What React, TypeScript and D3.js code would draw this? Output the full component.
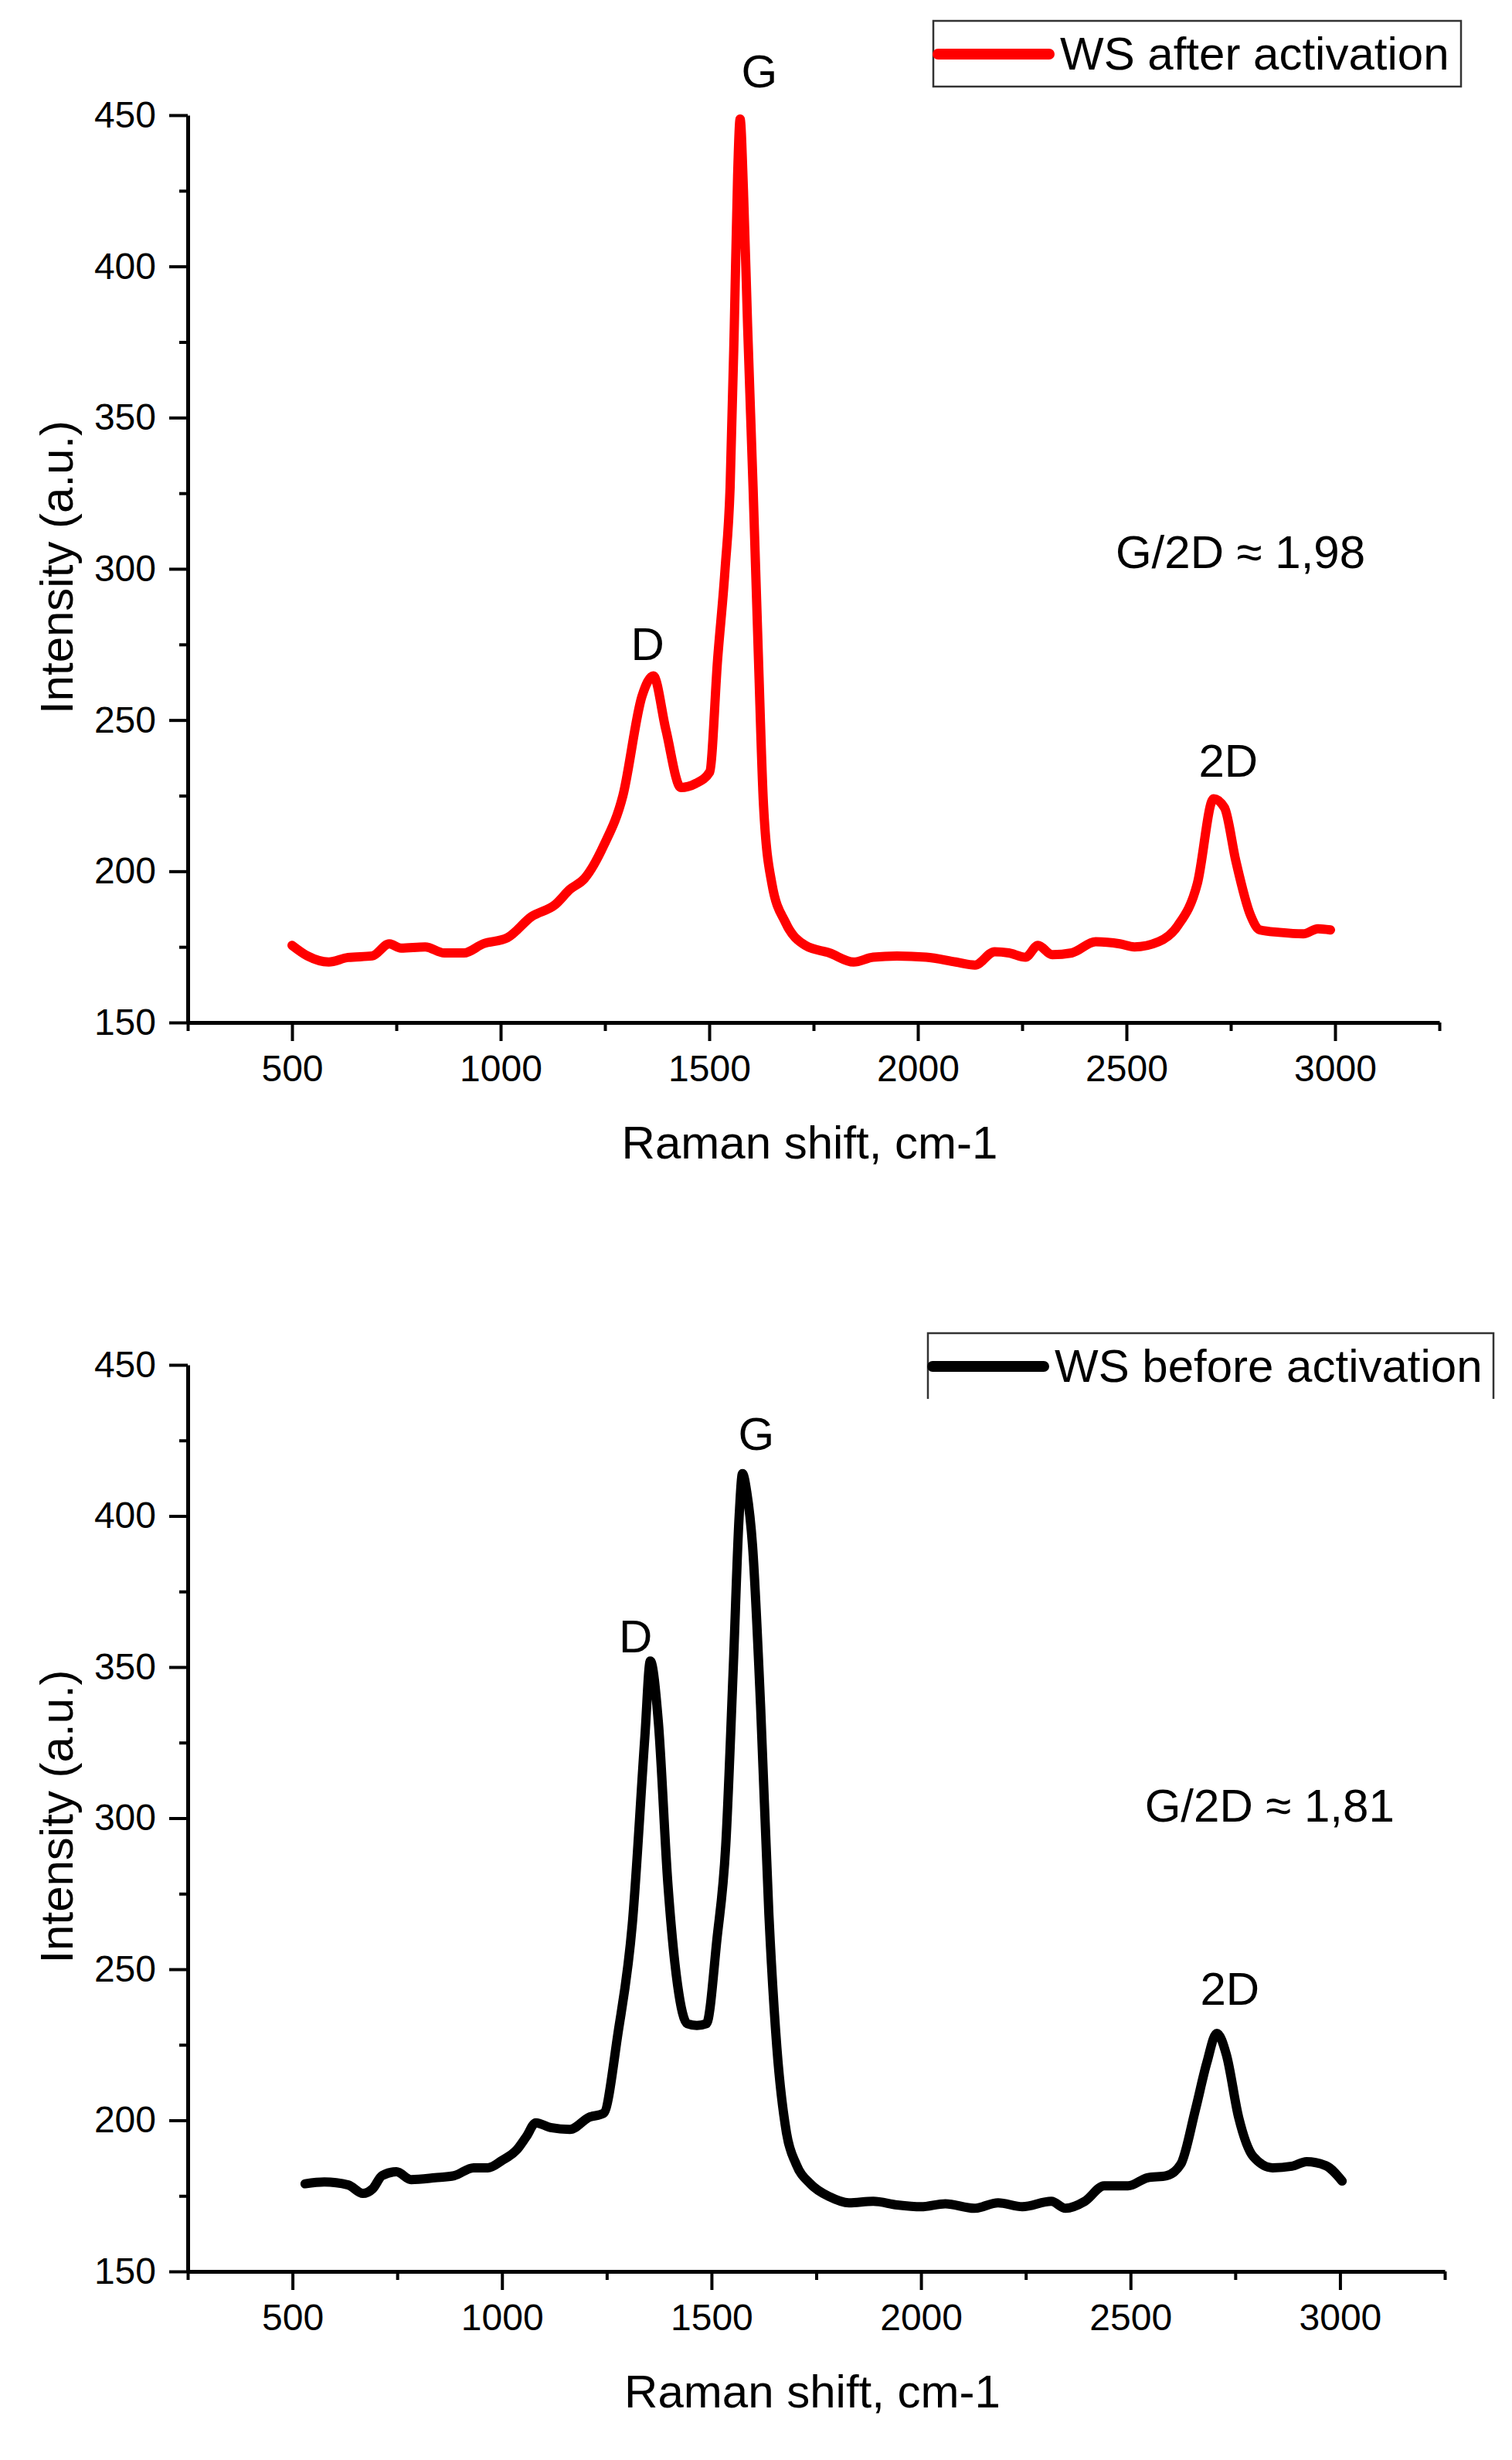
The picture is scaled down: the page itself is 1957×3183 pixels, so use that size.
import React, { useRef, useEffect } from "react";
import * as d3 from "d3";

// WS after activation (red)
const afterShift = [
  500, 537, 588, 634, 692, 733, 761, 819, 865, 912, 958, 1016, 1074, 1131, 1166,
  1201, 1247, 1293, 1339, 1366, 1396, 1432, 1467, 1501, 1520, 1538, 1550, 1560,
  1568, 1574, 1582, 1592, 1605, 1618, 1630, 1650, 1683, 1730, 1788, 1846, 1893,
  1950, 2020, 2091, 2137, 2184, 2218, 2258, 2288, 2322, 2369, 2426, 2484, 2519,
  2577, 2623, 2670, 2709, 2735, 2762, 2797, 2820, 2866, 2924, 2959, 2989,
];
const afterIntensity = [
  175.5, 172, 170, 171.5, 172, 176, 174.6, 175, 173, 173, 176, 178, 185, 189, 194,
  197.6, 208.5, 225, 258, 264.6, 246.8, 227.7, 229, 232.8, 270, 300, 327, 380,
  430, 448.7, 425, 380, 327, 270, 222, 196, 183, 175.5, 173, 170, 171.6,
  172, 171.6, 170, 169, 173.4, 173, 171.6, 175.5, 172.4, 173, 176.7, 176, 175,
  176.7, 182, 196, 224, 221, 203.5, 185.6, 180.6, 179.8, 179.3, 181, 180.6,
];

// WS before activation (black)
const beforeShift = [
  530, 576, 633, 668, 691, 714, 748, 783, 840, 886, 932, 966, 1001, 1035, 1058,
  1081, 1116, 1162, 1208, 1242, 1277, 1311, 1341, 1354, 1373, 1396, 1419, 1442,
  1465, 1488, 1513, 1534, 1552, 1566, 1574, 1584, 1598, 1617, 1637, 1656, 1679,
  1702, 1736, 1782, 1828, 1886, 1943, 2000, 2058, 2127, 2184, 2242, 2311, 2345,
  2391, 2437, 2494, 2540, 2586, 2620, 2655, 2682, 2706, 2729, 2758, 2793, 2839,
  2885, 2920, 2966, 3005,
];
const beforeIntensity = [
  179, 179.6, 178.6, 175.8, 177.3, 181.7, 183, 180.4, 181, 181.7, 184.3, 184.3,
  186.8, 190.2, 194.6, 199.2, 197.6, 197, 201, 202.3, 229, 265, 327, 352, 332,
  278, 244.8, 232, 231.4, 232, 260, 291, 350, 400, 414, 408, 390, 337.5, 268,
  224, 195.8, 185.5, 179, 174.7, 172.7, 173.2, 172, 171.4, 172.4, 170.9, 172.7,
  171.4, 173.2, 170.9, 173.2, 178.3, 178.3, 181, 181.7, 185.5, 203.6, 219,
  228.8, 221.6, 201, 188, 184.3, 184.8, 186.3, 185, 179.9,
];

const xMajorTicks = [500, 1000, 1500, 2000, 2500, 3000];
const xMinorTicks = [250, 750, 1250, 1750, 2250, 2750, 3250];
const yMajorTicks = [150, 200, 250, 300, 350, 400, 450];
const yMinorTicks = [175, 225, 275, 325, 375, 425];
const peakNames = ["D", "G", "2D"];
const ratioLabels = ["G/2D \u2248 1,98", "G/2D \u2248 1,81"];
const seriesNames = ["WS after activation", "WS before activation"];

const FONT = "'Liberation Sans', Arial, Helvetica, sans-serif";

type PanelProps = {
  shift: number[];
  intensity: number[];
  color: string;
  top: number;
  bottom: number;
  left: number;
  right: number;
  peaks: [number, number][];
  ratio: string;
  ratioAt: [number, number];
  legend: string;
  legendBox: { x: number; y: number; w: number; h: number; open: boolean };
};

const Panel = (p: PanelProps) => {
  const xRef = useRef<SVGGElement | null>(null);
  const yRef = useRef<SVGGElement | null>(null);

  const x = d3.scaleLinear().domain([250, 3250]).range([p.left, p.right]);
  const y = d3.scaleLinear().domain([150, 450]).range([p.bottom, p.top]);

  useEffect(() => {
    if (!xRef.current || !yRef.current) return;
    const gx = d3.select(xRef.current);
    const gy = d3.select(yRef.current);
    gx.selectAll("*").remove();
    gy.selectAll("*").remove();

    gx.append("g")
      .call(d3.axisBottom(x).tickValues(xMinorTicks).tickFormat(() => "").tickSize(11).tickSizeOuter(0))
      .call((g) => g.select(".domain").remove());
    gx.append("g").call(
      d3.axisBottom(x).tickValues(xMajorTicks).tickFormat(d3.format("d")).tickSize(24).tickSizeOuter(0).tickPadding(18)
    );

    gy.append("g")
      .call(d3.axisLeft(y).tickValues(yMinorTicks).tickFormat(() => "").tickSize(11).tickSizeOuter(0))
      .call((g) => g.select(".domain").remove());
    gy.append("g").call(
      d3.axisLeft(y).tickValues(yMajorTicks).tickFormat(d3.format("d")).tickSize(24).tickSizeOuter(0).tickPadding(17)
    );

    [gx, gy].forEach((g) => {
      g.selectAll(".domain").attr("stroke", "#000").attr("stroke-width", 5);
      g.selectAll(".tick line").attr("stroke", "#000").attr("stroke-width", 4);
      g.selectAll("text")
        .attr("font-family", FONT)
        .attr("font-size", 48)
        .attr("fill", "#000");
      g.selectAll("g").attr("font-family", null).attr("font-size", null);
    });
  }, [p.top, p.bottom, p.left, p.right]);

  const pts = p.shift.map((s, i) => [s, p.intensity[i]] as [number, number]);
  const line = d3
    .line<[number, number]>()
    .x((d) => x(d[0]))
    .y((d) => y(d[1]))
    .curve(d3.curveMonotoneX);

  const lb = p.legendBox;
  const midY = (p.top + p.bottom) / 2;

  return (
    <g>
      <path
        d={line(pts) ?? ""}
        fill="none"
        stroke={p.color}
        strokeWidth={12}
        strokeLinejoin="round"
        strokeLinecap="round"
      />
      <g ref={xRef} transform={`translate(0,${p.bottom})`} />
      <g ref={yRef} transform={`translate(${p.left},0)`} />

      {peakNames.map((n, i) => (
        <text
          key={n}
          x={x(p.peaks[i][0])}
          y={y(p.peaks[i][1])}
          textAnchor="middle"
          fontFamily={FONT}
          fontSize={60}
        >
          {n}
        </text>
      ))}
      <text x={x(p.ratioAt[0])} y={y(p.ratioAt[1])} fontFamily={FONT} fontSize={60}>
        {p.ratio}
      </text>

      <text
        x={(p.left + p.right) / 2 - 5}
        y={p.bottom + 176}
        textAnchor="middle"
        fontFamily={FONT}
        fontSize={60}
      >
        Raman shift, cm-1
      </text>
      <text
        transform={`translate(94,${midY - 2}) rotate(-90)`}
        textAnchor="middle"
        fontFamily={FONT}
        fontSize={60}
      >
        Intensity (a.u.)
      </text>

      {lb.open ? (
        <path
          d={`M${lb.x},${lb.y + lb.h}V${lb.y}H${lb.x + lb.w}V${lb.y + lb.h}`}
          fill="none"
          stroke="#333"
          strokeWidth={2.5}
        />
      ) : (
        <rect x={lb.x} y={lb.y} width={lb.w} height={lb.h} fill="#fff" stroke="#333" strokeWidth={2.5} />
      )}
      <line
        x1={lb.x + 6}
        x2={lb.x + 150}
        y1={lb.y + 43}
        y2={lb.y + 43}
        stroke={p.color}
        strokeWidth={14}
        strokeLinecap="round"
      />
      <text x={lb.x + 164} y={lb.y + 63} fontFamily={FONT} fontSize={60}>
        {p.legend}
      </text>
    </g>
  );
};

export default function App() {
  return (
    <svg
      width={1957}
      height={3183}
      style={{ position: "absolute", left: 0, top: 0, background: "#fff" }}
    >
      <Panel
        shift={afterShift}
        intensity={afterIntensity}
        color="#ff0000"
        top={149}
        bottom={1323}
        left={243}
        right={1863}
        peaks={[
          [1352, 269.9],
          [1620, 459.2],
          [2744, 231.3],
        ]}
        ratio={ratioLabels[0]}
        ratioAt={[2474, 300.3]}
        legend={seriesNames[0]}
        legendBox={{ x: 1208, y: 27, w: 683, h: 85, open: false }}
      />
      <Panel
        shift={beforeShift}
        intensity={beforeIntensity}
        color="#000000"
        top={1766}
        bottom={2939}
        left={243}
        right={1870}
        peaks={[
          [1319, 354.9],
          [1607, 421.9],
          [2737, 238.2],
        ]}
        ratio={ratioLabels[1]}
        ratioAt={[2534, 298.8]}
        legend={seriesNames[1]}
        legendBox={{ x: 1201, y: 1725, w: 732, h: 85, open: true }}
      />
    </svg>
  );
}
